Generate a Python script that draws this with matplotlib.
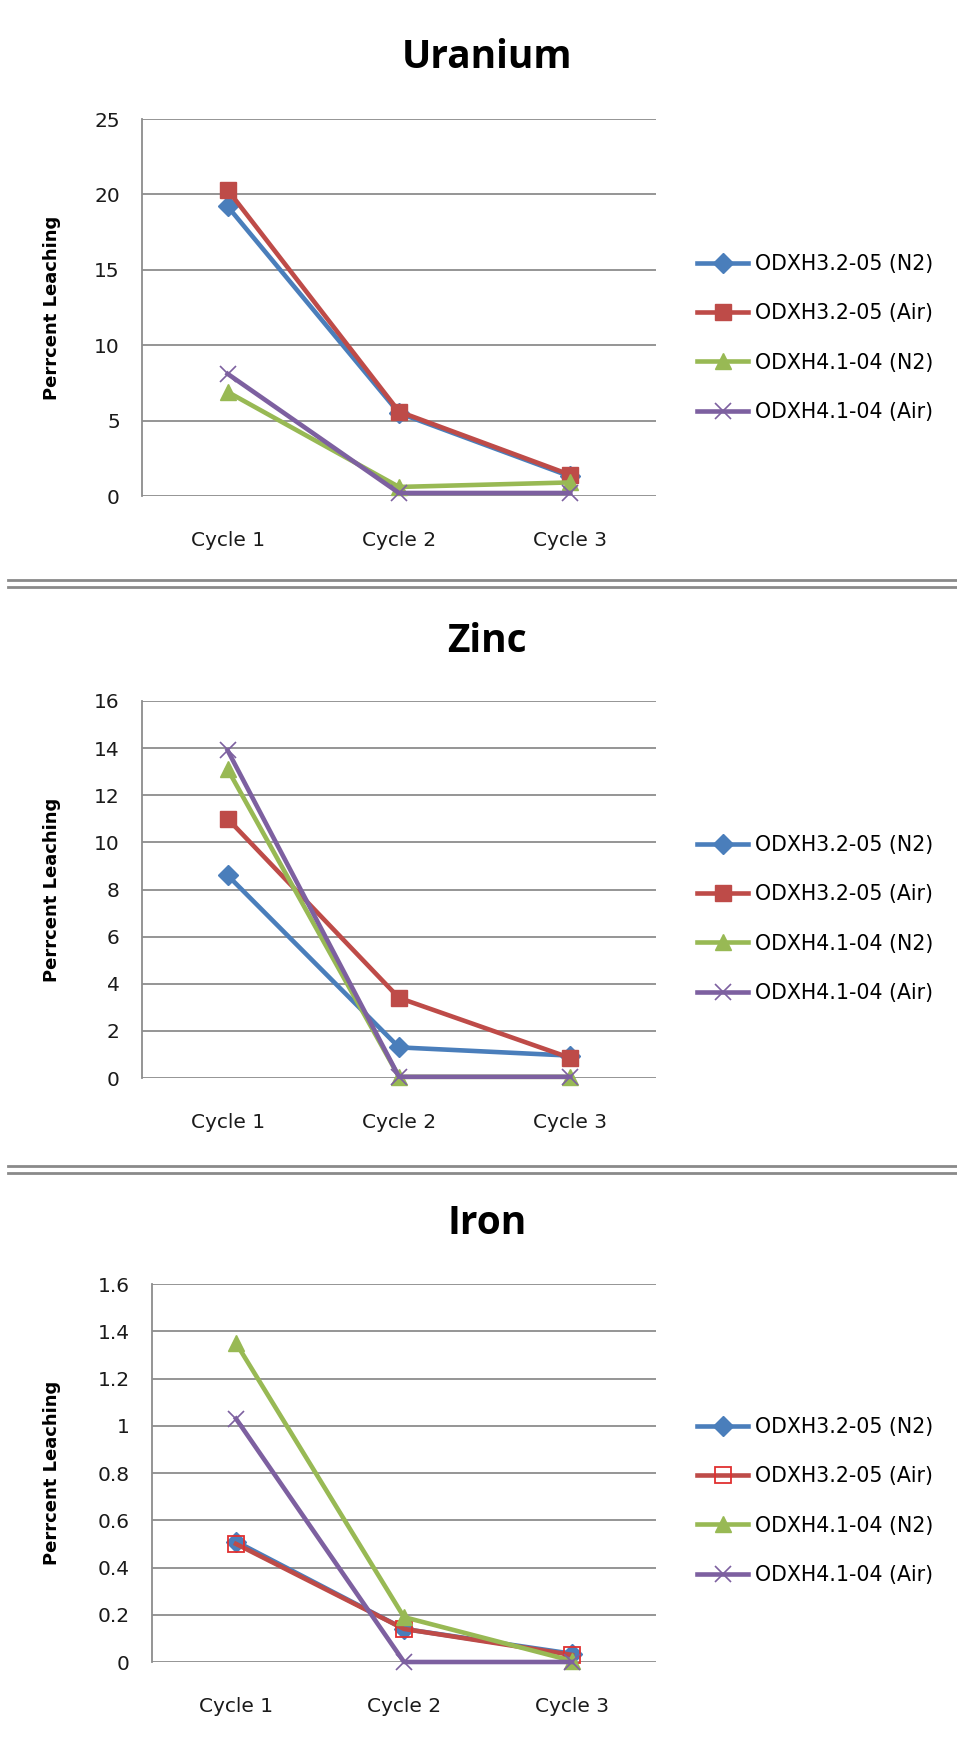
import matplotlib
matplotlib.use("Agg")
import matplotlib.pyplot as plt
from matplotlib.lines import Line2D

plt.rcParams['font.family'] = ['DejaVu Sans']

categories = ["Cycle 1", "Cycle 2", "Cycle 3"]
series_labels = ["ODXH3.2-05 (N2)", "ODXH3.2-05 (Air)", "ODXH4.1-04 (N2)", "ODXH4.1-04 (Air)"]

uranium_n2_32 = [19.2, 5.5, 1.3]
uranium_air_32 = [20.3, 5.6, 1.4]
uranium_n2_41 = [6.9, 0.6, 0.9]
uranium_air_41 = [8.1, 0.2, 0.2]

zinc_n2_32 = [8.6, 1.3, 0.95]
zinc_air_32 = [11.0, 3.4, 0.85]
zinc_n2_41 = [13.1, 0.05, 0.05]
zinc_air_41 = [13.9, 0.05, 0.05]

iron_n2_32 = [0.51, 0.14, 0.035]
iron_air_32 = [0.50, 0.14, 0.03]
iron_n2_41 = [1.35, 0.19, 0.005]
iron_air_41 = [1.03, 0.0, 0.0]

uranium_ticks = [0, 5, 10, 15, 20, 25]
zinc_ticks = [0, 2, 4, 6, 8, 10, 12, 14, 16]
iron_ticks = [0, 0.2, 0.4, 0.6, 0.8, 1.0, 1.2, 1.4, 1.6]
iron_tick_labels = ["0", "0.2", "0.4", "0.6", "0.8", "1", "1.2", "1.4", "1.6"]

colors = ["#4A7EBB", "#BE4B48", "#98B954", "#7D60A0"]

W, H = 957, 1742
fig = plt.figure(figsize=(W / 100, H / 100), dpi=100)


def px_axes(left, top, right, bottom):
    return fig.add_axes([left / W, 1 - bottom / H, (right - left) / W, (bottom - top) / H])


def panel(title, title_y, box, data, ticks, ticklabels, ymax, legend_y, iron=False):
    ax = px_axes(*box)
    x = list(range(len(categories)))
    styles = [
        dict(marker="D", markersize=10, markerfacecolor=colors[0], markeredgecolor=colors[0]),
        dict(marker="s", markersize=12, markerfacecolor=colors[1], markeredgecolor=colors[1]),
        dict(marker="^", markersize=12, markerfacecolor=colors[2], markeredgecolor=colors[2]),
        dict(marker="x", markersize=12, markeredgecolor=colors[3], markeredgewidth=1.2),
    ]
    if iron:
        styles[1] = dict(marker="s", markersize=12, markerfacecolor="none",
                         markeredgecolor="#E03030", markeredgewidth=1.3)
    for vals, c, lab, st in zip(data, colors, series_labels, styles):
        ax.plot(x, vals, color=c, linewidth=3.3, label=lab, **st, clip_on=False)
    ax.set_xlim(-0.5, 2.5)
    ax.set_ylim(0, ymax)
    ax.set_yticks(ticks)
    ax.set_yticklabels(ticklabels)
    ax.set_xticks(x)
    ax.set_xticklabels(categories)
    ax.grid(axis="y", color="#8c8c8c", linewidth=1.3)
    ax.set_axisbelow(True)
    for s in ["top", "right", "bottom"]:
        ax.spines[s].set_visible(False)
    ax.spines["left"].set_color("#8c8c8c")
    ax.spines["left"].set_linewidth(1.3)
    ax.tick_params(axis="both", length=0, labelsize=14.5, colors="#1a1a1a")
    ax.tick_params(axis="y", pad=16)
    ax.tick_params(axis="x", pad=25)
    ax.set_ylabel("Perrcent Leaching", fontsize=13, fontweight="bold")
    ax.yaxis.set_label_coords((61 - box[0]) / (box[2] - box[0]), 0.5)
    fig.text(487 / W, 1 - title_y / H, title, fontsize=28, fontweight="bold",
             family="Open Sans", ha="center", va="center")
    ax.legend(loc="center left", bbox_to_anchor=(697 / W, 1 - legend_y / H),
              bbox_transform=fig.transFigure, frameon=False, fontsize=14.8,
              handlelength=2.5, handletextpad=0.3, labelspacing=1.42, borderpad=0,
              borderaxespad=0)
    return ax


panel("Uranium", 57, (142, 119, 656, 496),
      [uranium_n2_32, uranium_air_32, uranium_n2_41, uranium_air_41],
      uranium_ticks, [str(t) for t in uranium_ticks], 25, 338)
panel("Zinc", 641, (142, 701, 656, 1078),
      [zinc_n2_32, zinc_air_32, zinc_n2_41, zinc_air_41],
      zinc_ticks, [str(t) for t in zinc_ticks], 16, 919)
panel("Iron", 1223, (152, 1284, 656, 1662),
      [iron_n2_32, iron_air_32, iron_n2_41, iron_air_41],
      iron_ticks, iron_tick_labels, 1.6, 1501, iron=True)

for yy in (580, 587, 1166, 1173):
    fig.add_artist(Line2D([8 / W, 1.0], [1 - yy / H, 1 - yy / H],
                          transform=fig.transFigure, color="#8a8a8a", linewidth=2))

fig.savefig("out.png", dpi=100)
